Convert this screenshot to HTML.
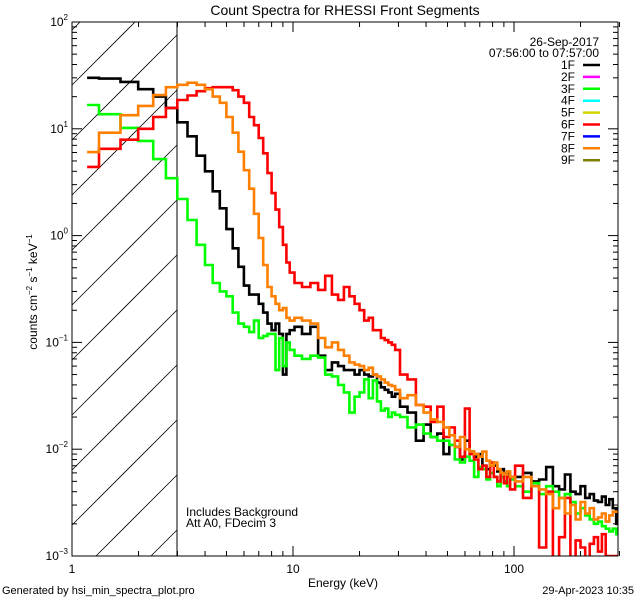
<!DOCTYPE html>
<html><head><meta charset="utf-8"><style>
html,body{margin:0;padding:0;background:#fff;overflow:hidden;}
svg{display:block;font-family:"Liberation Sans","DejaVu Sans",sans-serif;}
</style></head><body>
<svg id="chart" width="640" height="600" viewBox="0 0 640 600">
<defs><clipPath id="plotclip"><rect x="72" y="22" width="546" height="534"/></clipPath></defs>
<rect x="0" y="0" width="640" height="600" fill="#fff"/>
<text x="345" y="15" font-size="14" text-anchor="middle">Count Spectra for RHESSI Front Segments</text>
<g id="hatch"></g>
<line x1="177" y1="22" x2="177" y2="556" stroke="#000" stroke-width="1"/>
<g id="series" clip-path="url(#plotclip)"></g>
<rect x="72" y="22" width="546" height="534" fill="none" stroke="#000" stroke-width="1"/>
<g id="axes"></g>
<text x="343" y="587" font-size="12" text-anchor="middle">Energy (keV)</text>
<text transform="translate(37,292) rotate(-90)" font-size="12" text-anchor="middle">counts cm<tspan font-size="8" dy="-5">−2</tspan><tspan dy="5"> s</tspan><tspan font-size="8" dy="-5">−1</tspan><tspan dy="5"> keV</tspan><tspan font-size="8" dy="-5">−1</tspan></text>
<text x="599" y="46" font-size="12" text-anchor="end">26-Sep-2017</text>
<text x="599" y="57" font-size="12" text-anchor="end">07:56:00 to 07:57:00</text>
<g id="legend"></g>
<text x="186" y="516" font-size="12">Includes Background</text>
<text x="186" y="527" font-size="12">Att A0, FDecim 3</text>
<text x="2" y="594" font-size="11">Generated by hsi_min_spectra_plot.pro</text>
<text x="634" y="594" font-size="11" text-anchor="end">29-Apr-2023 10:35</text>
</svg>
<script>
const energies = [1.17,1.5,1.83,2.17,2.5,2.83,3.17,3.5,3.83,4.17,4.5,4.83,5.17,5.5,5.83,6.17,6.5,6.83,7.17,7.5,7.83,8.17,8.5,8.83,9.17,9.5,9.83,
10.5,11.5,12.5,13.5,14.5,15.5,16.5,17.5,18.5,19.5,20.5,21.5,22.5,23.5,24.5,25.5,26.5,27.5,28.5,29.5,
31.5,34.5,37.5,40.5,43.5,46.5,49.5,52.5,55.5,58.5,61.5,64.5,67.5,70.5,73.5,76.5,79.5,82.5,85.5,88.5,91.5,94.5,97.5,
105,115,125,135,145,155,165,175,185,195,205,215,225,235,245,255,265,275,285,295];
const seg1F = [30,29.5,27.5,23.5,20,15.7,11.5,8.5,5.6,4.0,2.6,1.8,1.15,0.76,0.51,0.34,0.28,0.28,0.23,0.19,0.15,0.13,0.15,0.12,0.05,0.12,0.13,
0.14,0.12,0.14,0.075,0.055,0.065,0.06,0.055,0.055,0.05,0.055,0.05,0.048,0.05,0.042,0.038,0.036,0.034,0.031,0.033,
0.025,0.022,0.012,0.017,0.013,0.014,0.009,0.011,0.0105,0.008,0.012,0.0095,0.0085,0.009,0.007,0.0065,0.0075,0.007,0.0062,0.0065,0.0058,0.006,0.0055,
0.0055,0.006,0.005,0.0052,0.0068,0.0045,0.0042,0.0058,0.004,0.0038,0.0045,0.0035,0.0038,0.0033,0.0032,0.0036,0.003,0.0034,0.0028,0.002];
const seg3F = [16.7,13.7,10.2,7.7,5.2,3.45,2.2,1.4,0.82,0.53,0.36,0.3,0.27,0.19,0.15,0.14,0.125,0.16,0.11,0.115,0.12,0.12,0.055,0.11,0.06,0.1,0.085,
0.075,0.07,0.075,0.072,0.05,0.048,0.04,0.034,0.022,0.031,0.034,0.045,0.03,0.044,0.028,0.023,0.024,0.02,0.022,0.021,
0.02,0.016,0.017,0.014,0.013,0.012,0.012,0.011,0.008,0.0075,0.0085,0.0078,0.0055,0.0068,0.0065,0.0052,0.006,0.0055,0.0045,0.0055,0.005,0.0045,0.0052,
0.0045,0.004,0.0048,0.0038,0.0045,0.004,0.0035,0.0038,0.0032,0.0025,0.0028,0.0024,0.0022,0.002,0.0021,0.0019,0.0018,0.0017,0.0018,0.0016];
const seg6F = [4.4,6.5,7.9,10,12.9,15.7,18.6,20.5,22.5,24,24.5,24.5,24.5,23,20,17.5,12.9,10.8,8.2,5.9,3.85,2.5,1.75,1.2,0.82,0.56,0.45,
0.36,0.33,0.36,0.31,0.42,0.28,0.25,0.33,0.27,0.23,0.2,0.16,0.17,0.13,0.13,0.11,0.105,0.1,0.095,0.085,
0.05,0.045,0.026,0.025,0.018,0.025,0.013,0.016,0.012,0.0085,0.024,0.009,0.008,0.0065,0.007,0.0055,0.0075,0.0055,0.005,0.006,0.0048,0.0055,0.0042,
0.007,0.0035,0.0045,0.0012,0.004,0.0009,0.0015,0.0035,0.0008,0.0014,0.0012,0.0009,0.0013,0.0015,0.0011,0.0016,0.001,0.001,0.001,0.001];
const seg8F = [6.05,9.2,13.4,16.4,20.7,24.5,25.8,27,25.8,23.5,20,17.5,12.9,9.2,6.1,4.1,2.75,1.6,0.95,0.53,0.33,0.27,0.23,0.2,0.21,0.17,0.16,
0.17,0.16,0.15,0.11,0.09,0.1,0.085,0.075,0.065,0.062,0.06,0.055,0.058,0.05,0.048,0.045,0.042,0.04,0.039,0.036,
0.03,0.032,0.026,0.022,0.019,0.018,0.016,0.0135,0.0105,0.013,0.01,0.0095,0.009,0.0085,0.0095,0.0078,0.007,0.0075,0.0065,0.006,0.0058,0.0062,0.0055,
0.005,0.0055,0.0045,0.0042,0.0038,0.0028,0.0035,0.0025,0.003,0.0022,0.0032,0.0025,0.0028,0.0022,0.0023,0.0025,0.0021,0.0024,0.0026,0.0026];
const legendLabels = ["1F","2F","3F","4F","5F","6F","7F","8F","9F"];
const legendColors = ["#000000","#ff00ff","#00ff00","#00ffff","#d4d400","#ff0000","#0000ff","#ff8000","#808000"];
const xTickLabels = ["1","10","100"];
const yTickExps = ["2","1","0","−1","−2","−3"];

const NS = "http://www.w3.org/2000/svg";
const X0 = 72, X1 = 618, Y0 = 22, Y1 = 556;
const XDEC = 221, YDEC = (Y1 - Y0) / 5;
function xs(e){ return X0 + XDEC * Math.log10(e); }
function ys(v){ return Y0 + (2 - Math.log10(v)) * YDEC; }
function mk(tag, attrs, parent){ const el = document.createElementNS(NS, tag); for (const k in attrs) el.setAttribute(k, attrs[k]); parent.appendChild(el); return el; }

// hatch (segments computed inside the region 72..177 x 22..556)
const hatch = document.getElementById('hatch');
for (let c = 30; c < 700; c += 55) {
  const xa = Math.max(72, 72 + c - 556), xb = Math.min(177, 72 + c - 22);
  if (xb <= xa) continue;
  const ln = mk('line', {x1: xa, y1: c - (xa - 72), x2: xb, y2: c - (xb - 72), stroke: '#000', 'stroke-width': 0.8}, hatch);
  
  
}

// series
const series = document.getElementById('series');
function drawHist(vals, color, name){
  const n = energies.length;
  let d = '';
  for (let i = 0; i < n; i++) {
    const lo = i === 0 ? energies[0] : Math.sqrt(energies[i-1] * energies[i]);
    const hi = i === n - 1 ? 300 : Math.sqrt(energies[i] * energies[i+1]);
    const y = Math.min(ys(vals[i]), 560).toFixed(1);
    d += (i === 0 ? 'M' : 'L') + xs(lo).toFixed(1) + ',' + y + 'L' + Math.min(xs(hi), 620).toFixed(1) + ',' + y;
  }
  const p = mk('path', {d: d, fill: 'none', stroke: color, 'stroke-width': 2.6, 'stroke-linejoin': 'miter'}, series);
  
  
}
drawHist(seg1F, '#000000', 'series-1f');
drawHist(seg3F, '#00ff00', 'series-3f');
drawHist(seg6F, '#ff0000', 'series-6f');
drawHist(seg8F, '#ff8000', 'series-8f');

// axes
const axes = document.getElementById('axes');
for (let dec = 0; dec < 3; dec++) {
  for (let m = 1; m <= 9; m++) {
    const e = m * Math.pow(10, dec);
    if (e > 300) break;
    const x = xs(e); const L = m === 1 ? 10 : 5;
    const t1 = mk('line', {x1: x, y1: Y1, x2: x, y2: Y1 - L, stroke: '#000', 'stroke-width': 1}, axes);
    
    
    const t2 = mk('line', {x1: x, y1: Y0, x2: x, y2: Y0 + L, stroke: '#000', 'stroke-width': 1}, axes);
    
    
  }
}
xTickLabels.forEach((lab, i) => {
  const t = mk('text', {x: xs(Math.pow(10, i)), y: 573, 'font-size': 12, 'text-anchor': 'middle'}, axes);
  t.textContent = lab;
  
  
});
for (let p = -3; p < 2; p++) {
  for (let m = 1; m <= 9; m++) {
    const v = m * Math.pow(10, p);
    const y = ys(v); const L = m === 1 ? 10 : 5;
    const t1 = mk('line', {x1: X0, y1: y, x2: X0 + L, y2: y, stroke: '#000', 'stroke-width': 1}, axes);
    
    
    const t2 = mk('line', {x1: X1, y1: y, x2: X1 - L, y2: y, stroke: '#000', 'stroke-width': 1}, axes);
    
    
  }
}
yTickExps.forEach((ex, i) => {
  const y = ys(Math.pow(10, 2 - i));
  const t = mk('text', {x: 68, y: y + 4, 'font-size': 12, 'text-anchor': 'end'}, axes);
  t.innerHTML = '10<tspan font-size="8" dy="-6">' + ex + '</tspan>';
  
  
});

// legend
const legend = document.getElementById('legend');
legendLabels.forEach((lab, i) => {
  const y = 65 + i * 11.9;
  const t = mk('text', {x: 575, y: y + 4, 'font-size': 12, 'text-anchor': 'end'}, legend);
  t.textContent = lab;
  
  
  const l = mk('line', {x1: 583, y1: y, x2: 600, y2: y, stroke: legendColors[i], 'stroke-width': 2.5}, legend);
  
  
});
</script>
</body></html>
